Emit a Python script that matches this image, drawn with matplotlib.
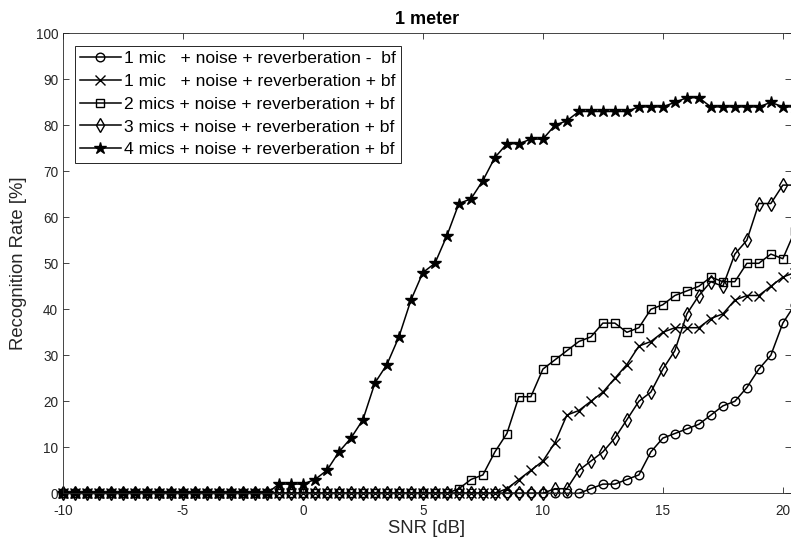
import numpy as np
import matplotlib
matplotlib.use("Agg")
import matplotlib.pyplot as plt

plt.rcParams['font.family'] = ['Liberation Sans', 'DejaVu Sans']

# SNR grid in dB (0.5 dB steps)
snr = np.arange(-10, 20.51, 0.5)

# Recognition rates [%] per configuration
mic1_nobf = [0] * 44 + [1, 2, 2, 3, 4, 9, 12, 13, 14, 15, 17, 19, 20, 23, 27, 30, 37, 41]
mic1_bf = [0] * 37 + [1, 3, 5, 7, 11, 17, 18, 20, 22, 25, 28, 32, 33, 35, 36, 36, 36,
                      38, 39, 42, 43, 43, 45, 47, 48]
mic2_bf = [0] * 33 + [1, 3, 4, 9, 13, 21, 21, 27, 29, 31, 33, 34, 37, 37, 35, 36, 40, 41,
                      43, 44, 45, 47, 46, 46, 50, 50, 52, 51, 57]
mic3_bf = [0] * 41 + [1, 1, 5, 7, 9, 12, 16, 20, 22, 27, 31, 39, 43, 46, 45, 52, 55, 63,
                      63, 67, 67]
mic4_bf = [0] * 18 + [2, 2, 2, 3, 5, 9, 12, 16, 24, 28, 34, 42, 48, 50, 56, 63, 64, 68, 73,
                      76, 76, 77, 77, 80, 81, 83, 83, 83, 83, 83, 84, 84, 84, 85, 86, 86,
                      84, 84, 84, 84, 84, 85, 84, 84]

labels = [
    "1 mic   + noise + reverberation -  bf",
    "1 mic   + noise + reverberation + bf",
    "2 mics + noise + reverberation + bf",
    "3 mics + noise + reverberation + bf",
    "4 mics + noise + reverberation + bf",
]
xticks = [-10, -5, 0, 5, 10, 15, 20]
yticks = list(range(0, 101, 10))

W, H = 791, 540
fig = plt.figure(figsize=(W / 100, H / 100), dpi=100)
ax = fig.add_axes([63 / W, 46.7 / H, 1 - 63 / W, 460 / H])

axcol = '#262626'
styles = [
    dict(marker='o', markersize=6.2, markerfacecolor='none'),
    dict(marker='x', markersize=7.5, markeredgewidth=1.0),
    dict(marker='s', markersize=5.2, markerfacecolor='none'),
    dict(marker='d', markersize=7.5, markerfacecolor='none'),
    dict(marker='*', markersize=9, markerfacecolor='black'),
]
series = [mic1_nobf, mic1_bf, mic2_bf, mic3_bf, mic4_bf]
for vals, lab, st in zip(series, labels, styles):
    ax.plot(snr, vals, color='black', linewidth=1.1, markeredgecolor='black',
            label=lab, clip_on=False, **st)

ax.set_xlim(-10, 20.34)
ax.set_ylim(0, 100)
ax.set_xticks(xticks)
ax.set_yticks(yticks)
ax.set_xticklabels([str(t) for t in xticks])
ax.tick_params(direction='in', length=4.5, width=0.6, color=axcol,
               labelsize=9.8, labelcolor=axcol, top=True, right=True)
ax.tick_params(axis='x', pad=8)
ax.tick_params(axis='y', pad=3.5)
for sp in ax.spines.values():
    sp.set_color(axcol)
    sp.set_linewidth(0.6)

ax.set_xlabel("SNR [dB]", fontsize=13.3, color=axcol, labelpad=1)
ax.set_ylabel("Recognition Rate [%]", fontsize=13.3, color=axcol, labelpad=6)
ax.set_title("1 meter", fontsize=13, fontweight='bold', color='black', pad=7)

leg = ax.legend(loc='upper left', bbox_to_anchor=(12 / 728, 1 - 12.4 / 460),
                borderaxespad=0, fontsize=12.6, handlelength=2.3,
                handletextpad=0.2, labelspacing=0.43, borderpad=0.3,
                fancybox=False, framealpha=1, edgecolor=axcol)
leg.get_frame().set_linewidth(0.7)

fig.savefig("out.png", dpi=100)
